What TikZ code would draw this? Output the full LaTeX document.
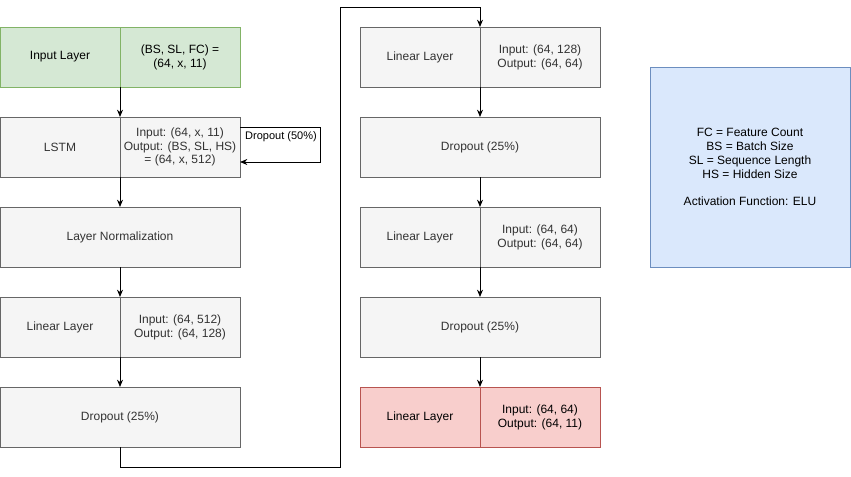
\documentclass[tikz,border=0pt]{standalone}
\usepackage{fontspec}
\setmainfont{Liberation Sans}
\usetikzlibrary{arrows.meta,positioning}
\definecolor{grayfill}{HTML}{F5F5F5}
\definecolor{grayline}{HTML}{666666}
\definecolor{graytext}{HTML}{333333}
\definecolor{greenfill}{HTML}{D5E8D4}
\definecolor{greenline}{HTML}{82B366}
\definecolor{redfill}{HTML}{F8CECC}
\definecolor{redline}{HTML}{B85450}
\definecolor{bluefill}{HTML}{DAE8FC}
\definecolor{blueline}{HTML}{6C8EBF}
\tikzset{
	cell/.style={draw, line width=0.75pt, inner sep=0pt, outer sep=0pt, anchor=north west,
		minimum width=90pt, minimum height=45pt, align=center,
		font=\fontsize{9}{10.4}\selectfont},
	wide/.style={cell, minimum width=180pt},
	graycell/.style={cell, fill=grayfill, draw=grayline, text=graytext},
	graywide/.style={wide, fill=grayfill, draw=grayline, text=graytext},
	greencell/.style={cell, fill=greenfill, draw=greenline},
	redcell/.style={cell, fill=redfill, draw=redline},
	arr/.style={line width=0.75pt, -{Stealth[length=5.5pt,width=4.5pt]}},
}
\begin{document}
\begin{tikzpicture}[x=0.75pt,y=-0.75pt]
	\useasboundingbox (0,0) rectangle (851,476);
	% left column
	\node[greencell] (inL) at (0,27) {Input Layer};
	\node[greencell, right=0pt of inL] (inR) {(BS, SL, FC) =\\(64, x, 11)};
	\node[graycell] (lstmL) at (0,117) {LSTM};
	\node[graycell, right=0pt of lstmL] (lstmR) {Input: (64, x, 11)\\Output: (BS, SL, HS)\\= (64, x, 512)};
	\node[graywide] (norm) at (0,207) {Layer Normalization};
	\node[graycell] (linAL) at (0,297) {Linear Layer};
	\node[graycell, right=0pt of linAL] (linAR) {Input: (64, 512)\\Output: (64, 128)};
	\node[graywide] (dropA) at (0,387) {Dropout (25\%)};
	% right column
	\node[graycell] (linBL) at (360,27) {Linear Layer};
	\node[graycell, right=0pt of linBL] (linBR) {Input: (64, 128)\\Output: (64, 64)};
	\node[graywide] (dropB) at (360,117) {Dropout (25\%)};
	\node[graycell] (linCL) at (360,207) {Linear Layer};
	\node[graycell, right=0pt of linCL] (linCR) {Input: (64, 64)\\Output: (64, 64)};
	\node[graywide] (dropC) at (360,297) {Dropout (25\%)};
	\node[redcell] (outL) at (360,387) {Linear Layer};
	\node[redcell, right=0pt of outL] (outR) {Input: (64, 64)\\Output: (64, 11)};
	% legend
	\node[cell, fill=bluefill, draw=blueline, minimum width=150pt, minimum height=150pt] (legend) at (650,67)
		{FC = Feature Count\\BS = Batch Size\\SL = Sequence Length\\HS = Hidden Size\\[10.4pt]Activation Function: ELU};
	% connectors
	\draw[arr] (inL.south east) -- (lstmL.north east);
	\draw[arr] (lstmL.south east) -- (norm.north);
	\draw[arr] (norm.south) -- (linAL.north east);
	\draw[arr] (linAL.south east) -- (dropA.north);
	\draw[arr] (dropA.south) |- (340,467) -- (340,7) -| (linBL.north east);
	\draw[arr] (linBL.south east) -- (dropB.north);
	\draw[arr] (dropB.south) -- (linCL.north east);
	\draw[arr] (linCL.south east) -- (dropC.north);
	\draw[arr] (dropC.south) -- (outL.north east);
	\draw[arr] (lstmR.east |- 0,127) -- (320,127) |- (lstmR.east |- 0,162);
	\node[font=\fontsize{8.25}{9}\selectfont, inner sep=1pt] (dropLbl) at (281,137) {Dropout (50\%)};
\end{tikzpicture}
\end{document}
